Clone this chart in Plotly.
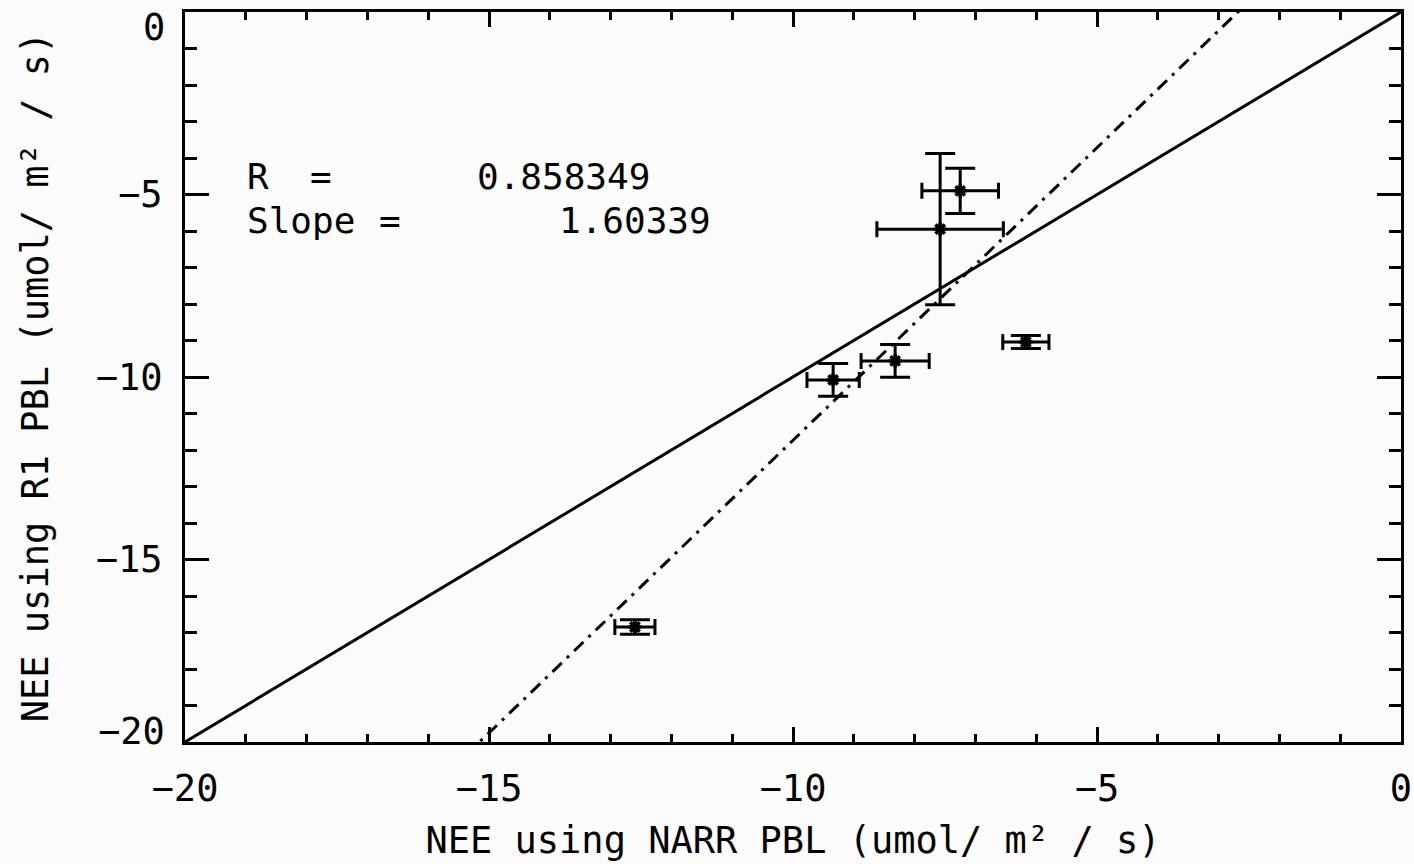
import plotly.graph_objects as go

# NEE estimates (umol / m^2 / s) from the two PBL products
narr_nee = [-7.25, -7.58, -8.32, -9.34, -6.17, -12.60]
narr_err = [0.63, 1.04, 0.56, 0.43, 0.38, 0.33]
r1_nee = [-4.90, -5.95, -9.56, -10.08, -9.04, -16.85]
r1_err = [0.62, 2.07, 0.45, 0.45, 0.18, 0.20]

# fit statistics
r_value = 0.858349
slope = 1.60339
intercept = 4.3

axis_range = [-20, 0]
x_tick_vals = [-20, -15, -10, -5, 0]
y_tick_vals = [-15, -10, -5]        # the two end labels are nudged inside the frame
y_end_labels = [-20, 0]

FONT = "DejaVu Sans Mono"
FS = 37
INK = "black"

fig = go.Figure()

# 1:1 reference line
fig.add_trace(go.Scatter(
    x=axis_range, y=axis_range, mode="lines",
    line=dict(color=INK, width=3), hoverinfo="skip", showlegend=False,
))

# regression line
fit_x = [axis_range[0], axis_range[1]]
fit_y = [slope * v + intercept for v in fit_x]
fig.add_trace(go.Scatter(
    x=fit_x, y=fit_y, mode="lines",
    line=dict(color=INK, width=3, dash="13px,7px,3px,7px"),
    hoverinfo="skip", showlegend=False,
))

# points with error bars in both directions
fig.add_trace(go.Scatter(
    x=narr_nee, y=r1_nee, mode="markers",
    marker=dict(symbol="asterisk-open", size=11, color=INK,
                line=dict(color=INK, width=3.5)),
    error_x=dict(type="data", array=narr_err, visible=True,
                 color=INK, thickness=3, width=8),
    error_y=dict(type="data", array=r1_err, visible=True,
                 color=INK, thickness=3, width=15),
    showlegend=False,
))

# statistics text block
txt = dict(size=36, family=FONT, color=INK)
ann = [
    dict(x=0.049, y=0.774, text="R", xanchor="left"),
    dict(x=0.1015, y=0.774, text="=", xanchor="left"),
    dict(x=0.384, y=0.774, text=f"{r_value:.6f}", xanchor="right"),
    dict(x=0.049, y=0.7137, text="Slope", xanchor="left"),
    dict(x=0.158, y=0.7137, text="=", xanchor="left"),
    dict(x=0.434, y=0.7137, text=f"{slope:.5f}", xanchor="right"),
]
for a in ann:
    fig.add_annotation(xref="paper", yref="paper", yanchor="middle",
                       showarrow=False, font=txt, **a)

# end labels of the y axis, pulled just inside the frame
lab = dict(size=FS, family=FONT, color=INK)
for v, ypos in zip(y_end_labels, [0.015, 0.979]):
    fig.add_annotation(xref="paper", yref="paper", x=-0.0145, y=ypos,
                       xanchor="right", yanchor="middle", showarrow=False,
                       text=f"{v}".replace("-", "\u2212"), font=lab)

axis_common = dict(
    range=axis_range, automargin=False,
    showgrid=False, zeroline=False,
    showline=True, linecolor=INK, linewidth=3, mirror="ticks",
    ticks="inside", tickcolor=INK, tickwidth=3,
    tickfont=dict(size=FS, family=FONT, color=INK),
)

fig.update_xaxes(
    **axis_common, tickvals=x_tick_vals, ticklen=15,
    minor=dict(dtick=1, ticks="inside", ticklen=8, tickwidth=3, tickcolor=INK),
    ticklabelstandoff=12,
    title=dict(text="NEE using NARR PBL (umol/ m² / s)",
               font=dict(size=FS, family=FONT, color=INK), standoff=18),
)
fig.update_yaxes(
    **axis_common, tickvals=y_tick_vals, ticklen=24,
    minor=dict(dtick=1, ticks="inside", ticklen=12, tickwidth=3, tickcolor=INK),
    ticklabelstandoff=12,
    title=dict(text="NEE using R1 PBL (umol/ m² / s)",
               font=dict(size=FS, family=FONT, color=INK), standoff=36),
)

fig.update_layout(
    width=1414, height=864,
    margin=dict(l=185, r=13, t=12, b=122),
    paper_bgcolor="#fbfbfb", plot_bgcolor="#fbfbfb",
    font=dict(family=FONT, color=INK),
)

fig.write_html("out.html")
